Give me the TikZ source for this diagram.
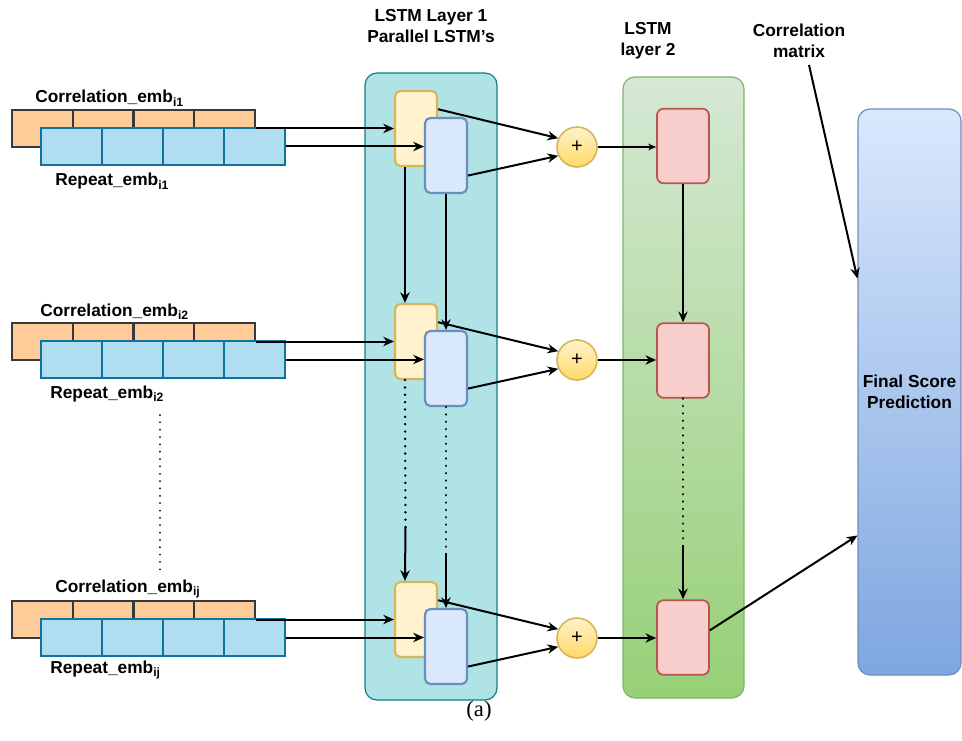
\documentclass[tikz,border=0pt]{standalone}
\usepackage{fontspec}
\setmainfont{Liberation Sans}
\newfontfamily\capserif{Liberation Serif}
\usetikzlibrary{arrows.meta,calc}

\definecolor{corrfill}{HTML}{FFCC99}
\definecolor{corrdraw}{HTML}{36393D}
\definecolor{repfill}{HTML}{B1DDF0}
\definecolor{repdraw}{HTML}{10739E}
\definecolor{yelfill}{HTML}{FFF2CC}
\definecolor{yeldraw}{HTML}{D6B656}
\definecolor{bluefill}{HTML}{DAE8FC}
\definecolor{bluedraw}{HTML}{6C8EBF}
\definecolor{layonefill}{HTML}{B0E3E6}
\definecolor{layonedraw}{HTML}{0E8088}
\definecolor{laytwotop}{HTML}{D5E8D4}
\definecolor{laytwobot}{HTML}{97D077}
\definecolor{laytwodraw}{HTML}{82B366}
\definecolor{pinkfill}{HTML}{F8CECC}
\definecolor{pinkdraw}{HTML}{B85450}
\definecolor{plustop}{HTML}{FFF2CC}
\definecolor{plusbot}{HTML}{FFD966}
\definecolor{fintop}{HTML}{DAE8FC}
\definecolor{finbot}{HTML}{7EA6E0}

\begin{document}
\begin{tikzpicture}[x=0.75pt,y=-0.75pt,
  >={Stealth[length=8pt,width=7pt]},
  lbl/.style={font=\bfseries\fontsize{13}{15.5}\selectfont,inner sep=0pt},
  cells/.style={path picture={\foreach \f in {0.25,0.5,0.75}
    \draw[#1,line width=1.6pt] ($(path picture bounding box.north west)!\f!(path picture bounding box.north east)$)
      -- ($(path picture bounding box.south west)!\f!(path picture bounding box.south east)$);}},
  corrstrip/.style={draw=corrdraw,fill=corrfill,line width=1.8pt,cells=corrdraw,
    minimum width=182.25pt,minimum height=27.75pt,inner sep=0pt},
  repstrip/.style={draw=repdraw,fill=repfill,line width=1.6pt,cells=repdraw,
    minimum width=183pt,minimum height=27.75pt,inner sep=0pt},
  ycell/.style={draw=yeldraw,fill=yelfill,line width=1.6pt,rounded corners=4pt,
    minimum width=31.5pt,minimum height=56.25pt},
  bcell/.style={draw=bluedraw,fill=bluefill,line width=1.6pt,rounded corners=4pt,
    minimum width=31.5pt,minimum height=56.25pt},
  pcell/.style={draw=pinkdraw,fill=pinkfill,line width=1.3pt,rounded corners=5pt,
    minimum width=39pt,minimum height=56pt},
  plusnode/.style={circle,draw=yeldraw,top color=plustop,bottom color=plusbot,line width=1.2pt,
    minimum size=30pt,inner sep=0pt,font=\fontsize{15}{15}\selectfont},
  arr/.style={->,line width=1.5pt},
  thinarr/.style={-{Stealth[length=6pt,width=5pt]},line width=0.9pt},
  dots/.style={line width=2pt,line cap=round,dash pattern=on 0.01pt off 5.5pt}]

\useasboundingbox (0,0) rectangle (962,741);

\node[draw=layonedraw,fill=layonefill,line width=0.9pt,rounded corners=9pt,
  minimum width=99pt,minimum height=470.25pt] (lay1) at (431,386.5) {};
\node[draw=laytwodraw,top color=laytwotop,bottom color=laytwobot,line width=0.9pt,rounded corners=9pt,
  minimum width=90.75pt,minimum height=465.75pt] (lay2) at (683.5,387.5) {};
\node[draw=bluedraw,top color=fintop,bottom color=finbot,line width=0.9pt,rounded corners=9pt,
  minimum width=77.25pt,minimum height=424.5pt,lbl,align=center] (fin) at (909.5,392) {Final Score\\Prediction};

\node[lbl,align=center] (head1) at (431,26) {LSTM Layer 1\\Parallel LSTM's};
\node[lbl,align=center] (head2) at (648,41) {LSTM\\layer 2};
\node[lbl,align=center] (cmat) at (799,41) {Correlation\\matrix};

\node[lbl,anchor=base west] (cl1) at (35,103) {Correlation\_emb\textsubscript{i1}};
\node[lbl,anchor=base west] (rl1) at (55,186) {Repeat\_emb\textsubscript{i1}};
\node[lbl,anchor=base west] (cl2) at (40,316) {Correlation\_emb\textsubscript{i2}};
\node[lbl,anchor=base west] (rl2) at (50,398) {Repeat\_emb\textsubscript{i2}};
\node[lbl,anchor=base west] (cl3) at (55,592) {Correlation\_emb\textsubscript{ij}};
\node[lbl,anchor=base west] (rl3) at (50,673) {Repeat\_emb\textsubscript{ij}};

\node[corrstrip] (corr1) at (133.5,128.5) {};
\node[repstrip] (rep1) at (163,146.5) {};
\node[corrstrip] (corr2) at (133.5,341.5) {};
\node[repstrip] (rep2) at (163,359.5) {};
\node[corrstrip] (corr3) at (133.5,619.5) {};
\node[repstrip] (rep3) at (163,637.5) {};

\node[ycell] (ly1) at (416,128.5) {};
\node[bcell] (lb1) at (446,155.5) {};
\node[ycell] (ly2) at (416,341.5) {};
\node[bcell] (lb2) at (446,368.5) {};
\node[ycell] (ly3) at (416,619.5) {};
\node[bcell] (lb3) at (446,646.5) {};

\node[plusnode] (p1) at (577,147) {+};
\node[plusnode] (p2) at (577,360) {+};
\node[plusnode] (p3) at (577,638) {+};

\node[pcell] (pk1) at (683,146) {};
\node[pcell] (pk2) at (683,360.5) {};
\node[pcell] (pk3) at (683,637.5) {};

\coordinate (dl1) at (160,415);
\coordinate (dl2) at (160,575);
\coordinate (ybrk) at (405.5,527);
\coordinate (bbrk) at (446,553);
\coordinate (pbrk) at (683,545);

\draw[dots,line width=1.5pt] (dl1) -- (dl2);

\draw[arr] (corr1.east) -- (corr1.east -| ly1.west);
\draw[arr] (rep1.east) -- (rep1.east -| lb1.west);
\draw[arr] (corr2.east) -- (corr2.east -| ly2.west);
\draw[arr] (rep2.east) -- (rep2.east -| lb2.west);
\draw[arr] (corr3.east) -- (corr3.east -| ly3.west);
\draw[arr] (rep3.east) -- (rep3.east -| lb3.west);

\draw[arr] ($(ly1.south west)!0.25!(ly1.south east)$) -- ($(ly2.north west)!0.25!(ly2.north east)$);
\draw[arr] (lb1.south) -- (lb2.north);
\draw[dots] ($(ly2.south west)!0.25!(ly2.south east)$) -- (ybrk);
\draw[arr] (ybrk) -- ($(ly3.north west)!0.25!(ly3.north east)$);
\draw[dots] (lb2.south) -- (bbrk);
\draw[arr] (bbrk) -- (lb3.north);

\draw[arr] ($(ly1.north east)!0.25!(ly1.south east)$) -- (p1.155);
\draw[arr] ($(lb1.north east)!0.76!(lb1.south east)$) -- (p1.205);
\draw[arr] ($(ly2.north east)!0.25!(ly2.south east)$) -- (p2.155);
\draw[arr] ($(lb2.north east)!0.76!(lb2.south east)$) -- (p2.205);
\draw[arr] ($(ly3.north east)!0.25!(ly3.south east)$) -- (p3.155);
\draw[arr] ($(lb3.north east)!0.76!(lb3.south east)$) -- (p3.205);

\draw[thinarr] (p1.east) -- (p1.east -| pk1.west);
\draw[arr] (p2.east) -- (p2.east -| pk2.west);
\draw[arr] (p3.east) -- (p3.east -| pk3.west);

\draw[arr] (pk1.south) -- (pk2.north);
\draw[dots] (pk2.south) -- (pbrk);
\draw[arr] (pbrk) -- (pk3.north);

\draw[arr] (pk3.15) -- ($(fin.north west)!0.753!(fin.south west)$);
\draw[arr] ($(cmat.south)+(10,7)$) -- ($(fin.north west)!0.3!(fin.south west)$);

\node[font=\capserif\fontsize{17}{19}\selectfont] (cap) at (479,711) {(a)};
\end{tikzpicture}
\end{document}
